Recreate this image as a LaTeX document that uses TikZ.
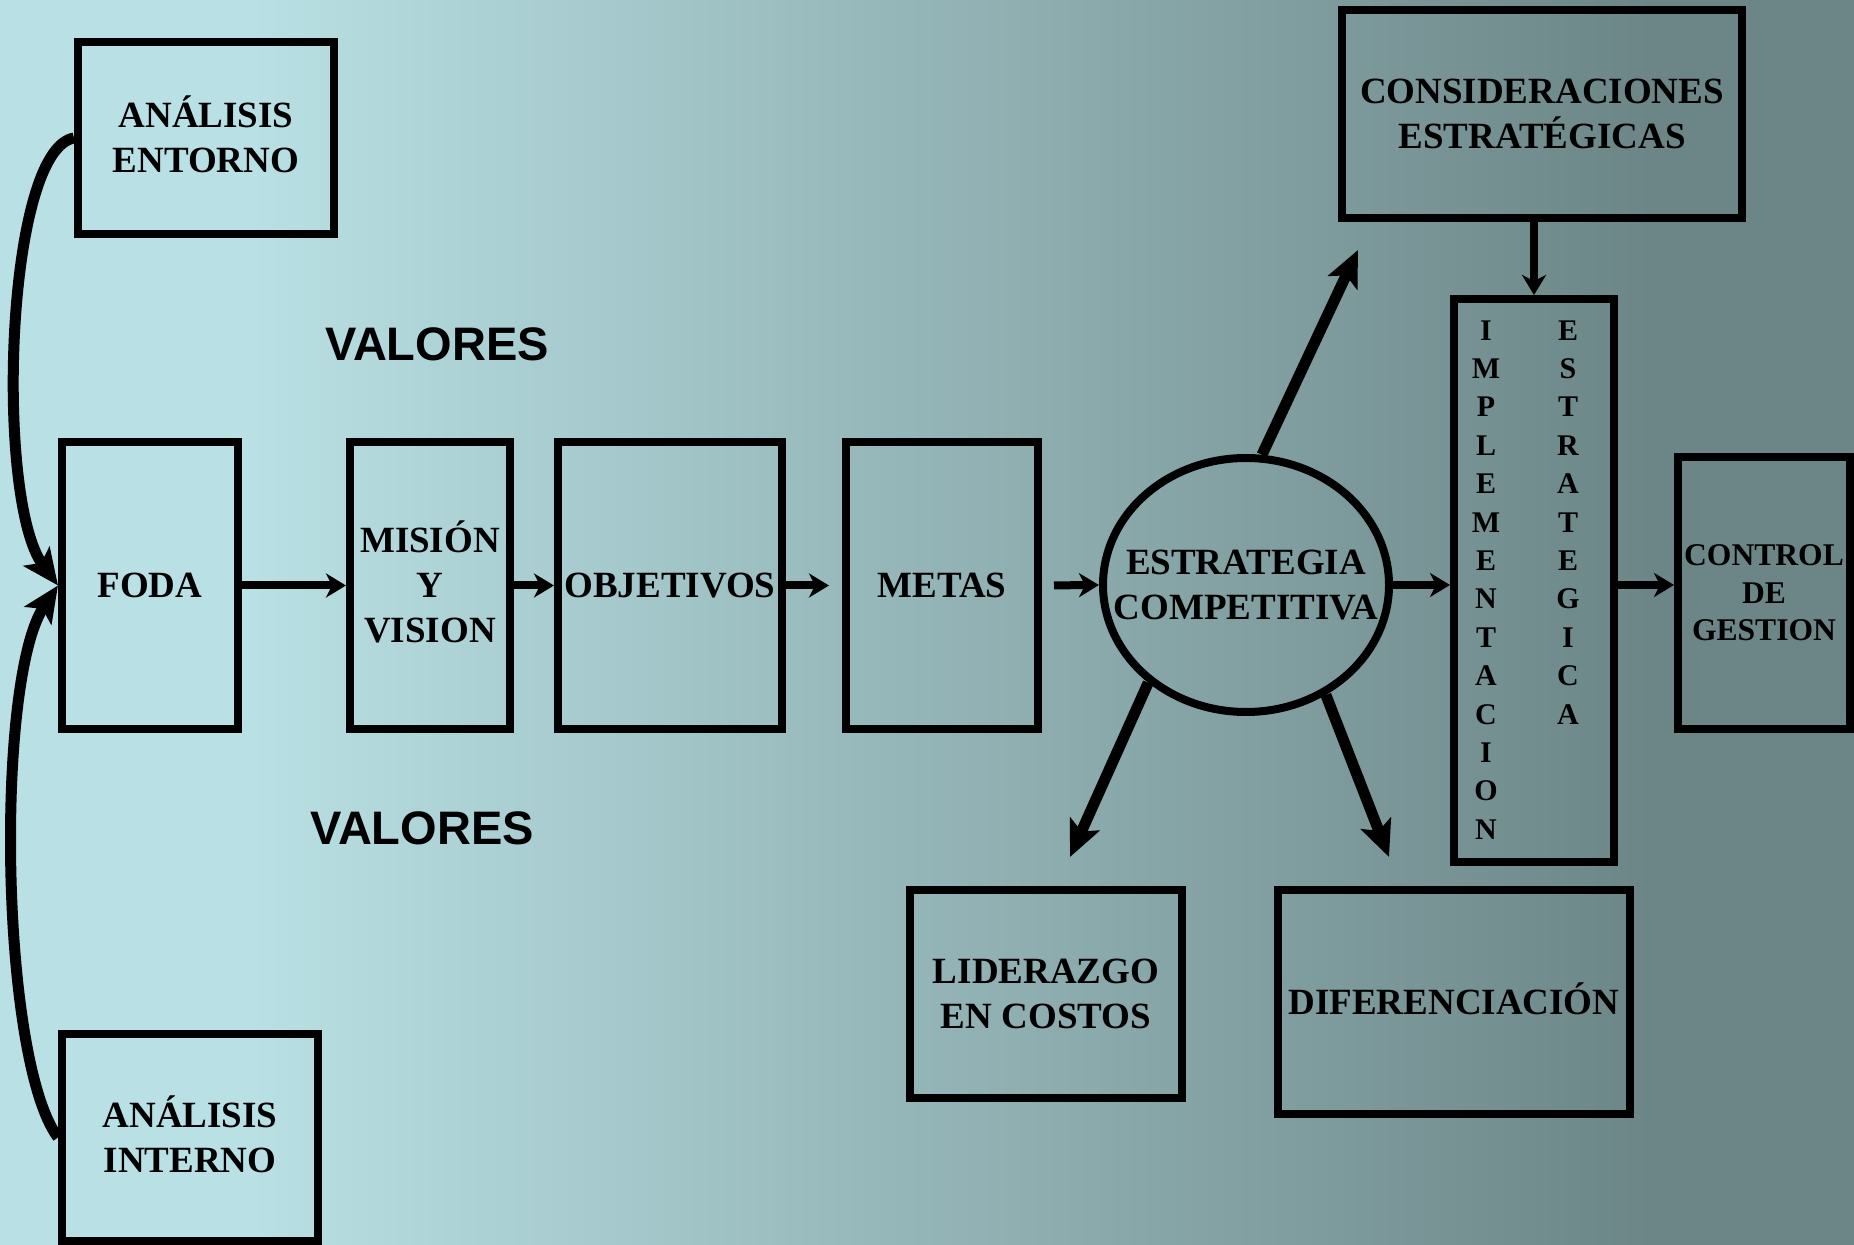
\documentclass[tikz,border=0pt]{standalone}
\usepackage{fontspec}
\setmainfont{Liberation Serif}
\newfontfamily\valfont{Liberation Sans}
\usetikzlibrary{arrows.meta,shapes.geometric}
\definecolor{bglight}{RGB}{185,224,228}
\definecolor{bgdark}{RGB}{108,134,135}
\tikzset{
  box/.style={draw=black, line width=4pt, inner sep=0pt, align=center,
    font=\bfseries\fontsize{18.5}{22.5}\selectfont},
  txt/.style={inner sep=0pt, align=center, font=\bfseries\fontsize{18.5}{22.5}\selectfont},
  vcol/.style={inner sep=0pt, align=center, font=\bfseries\fontsize{15}{19.2}\selectfont},
  ctrltxt/.style={font=\bfseries\fontsize{15.8}{18.75}\selectfont},
  valores/.style={inner sep=0pt, font=\valfont\bfseries\fontsize{23.5}{28}\selectfont},
  conn/.style={line width=4pt, -{Stealth[length=10pt,width=12pt,inset=3pt]}},
  bigconn/.style={line width=5.5pt, -{Stealth[length=18pt,width=16pt,inset=4pt]}},
}
\begin{document}
\begin{tikzpicture}[x=0.5pt,y=-0.5pt]
\useasboundingbox (0,0) rectangle (1854,1245);
% background
\fill[bglight] (0,0) rectangle (251,1245);
\shade[left color=bglight, right color=bgdark] (250,0) rectangle (1651,1245);
\fill[bgdark] (1650,0) rectangle (1854,1245);

% boxes
\node[box, minimum width=128pt, minimum height=96pt] (AE) at (206,138) {AN\smash{Á}LISIS\\ENTORNO};
\node[box, minimum width=128pt, minimum height=103.5pt] (AI) at (190,1137.5) {AN\smash{Á}LISIS\\INTERNO};
\node[box, minimum width=88pt, minimum height=143.5pt] (FODA) at (150,585.5) {FODA};
\node[box, minimum width=80pt, minimum height=143.5pt] (MIS) at (430,585.5) {MISI\smash{Ó}N\\Y\\VISION};
\node[box, minimum width=112pt, minimum height=143.5pt] (OBJ) at (670,585.5) {OBJETIVOS};
\node[box, minimum width=96pt, minimum height=143.5pt] (METAS) at (942,585.5) {METAS};
\node[box, ellipse, minimum width=143pt, minimum height=127pt] (ESTR) at (1246,585) {};
\node[txt] (ESTRtxt) at (ESTR) {ESTRATEGIA\\COMPETITIVA};
\node[box, minimum width=80pt, minimum height=281.5pt] (IMPL) at (1534,580.5) {};
\node[vcol, anchor=north] (implL) at (1486,320) {I\\M\\P\\L\\E\\M\\E\\N\\T\\A\\C\\I\\O\\N};
\node[vcol, anchor=north] (implR) at (1568,320) {E\\S\\T\\R\\A\\T\\E\\G\\I\\C\\A};
\node[box, ctrltxt, minimum width=86pt, minimum height=136pt] (CTRL) at (1764,593) {CONTROL\\DE\\GESTION};
\node[box, minimum width=200pt, minimum height=104pt] (CONS) at (1542,114) {CONSIDERACIONES\\ESTRAT\smash{É}GICAS};
\node[box, minimum width=136pt, minimum height=104pt] (LID) at (1046,994) {LIDERAZGO\\EN COSTOS};
\node[box, minimum width=176pt, minimum height=112pt] (DIF) at (1454,1002) {DIFERENCIACI\smash{Ó}N};

% labels
\node[valores, anchor=base] (val1) at (437,361) {VALORES};
\node[valores, anchor=base] (val2) at (422,845) {VALORES};

% free ends
\coordinate (tipUp) at (1358,250);
\coordinate (tipDL) at (1070,857);
\coordinate (tipDR) at (1389,857);

% connectors
\draw[bigconn] (AE.west) .. controls (5,150) and (-5,500) .. (FODA.west);
\draw[bigconn] (AI.west) .. controls (0,1060) and (-5,680) .. (FODA.west);
\draw[conn] (FODA.east) -- (MIS.west);
\draw[conn] (MIS.east) -- (OBJ.west);
\draw[conn, shorten >=6.5pt] (OBJ.east) -- (METAS.west);
\draw[conn, shorten <=6pt] (METAS.east) -- (ESTR.west);
\draw[conn] (ESTR.east) -- (ESTR.east -| IMPL.west);
\draw[conn] (ESTR.east -| IMPL.east) -- (ESTR.east -| CTRL.west);
\draw[conn] (IMPL.north |- CONS.south) -- (IMPL.north);
\draw[bigconn] (ESTR.83) -- (tipUp);
\draw[bigconn] (ESTR.225) -- (tipDL);
\draw[bigconn] (ESTR.-54) -- (tipDR);
\end{tikzpicture}
\end{document}
